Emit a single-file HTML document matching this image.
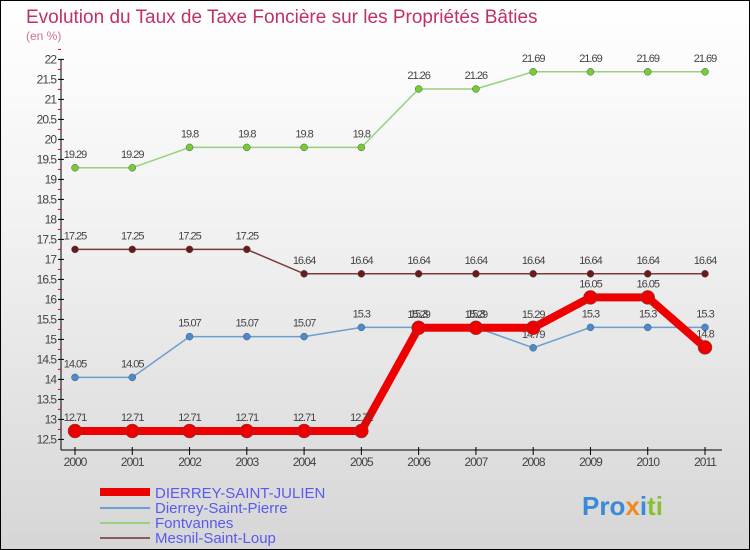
<!DOCTYPE html>
<html><head><meta charset="utf-8"><style>
body{margin:0}
#c{width:750px;height:550px;position:relative;box-sizing:border-box;border:1px solid #000;background:linear-gradient(#fff,#f2f2f2 40%,#d6d6d6);overflow:hidden;font-family:"Liberation Sans",sans-serif}
</style></head><body>
<div id="c">
<svg id="s" width="750" height="550" style="position:absolute;left:-1px;top:-1px">
<text x="26" y="23" font-size="19" fill="#c0306a">Evolution du Taux de Taxe Foncière sur les Propriétés Bâties</text>
<text x="26" y="40" font-size="12" fill="#d0709a">(en %)</text>
<g id="axes"></g><g id="series"></g>
<g>
<line x1="100" y1="492" x2="150" y2="492" stroke="#e00" stroke-width="8"/>
<text x="155" y="498" font-size="15" fill="#5a5aee">DIERREY-SAINT-JULIEN</text>
<line x1="100" y1="508" x2="150" y2="508" stroke="#6a9fd0" stroke-width="2"/>
<text x="155" y="513" font-size="15" fill="#5a5aee">Dierrey-Saint-Pierre</text>
<line x1="100" y1="523" x2="150" y2="523" stroke="#99d080" stroke-width="2"/>
<text x="155" y="528" font-size="15" fill="#5a5aee">Fontvannes</text>
<line x1="100" y1="538" x2="150" y2="538" stroke="#8a5a5a" stroke-width="2"/>
<text x="155" y="543" font-size="15" fill="#5a5aee">Mesnil-Saint-Loup</text>
</g>
<text x="582" y="515" font-size="26" font-weight="bold"><tspan fill="#3a8ad8">Pro</tspan><tspan fill="#f08a20">x</tspan><tspan fill="#3a8ad8">i</tspan><tspan fill="#88c030">ti</tspan></text>
</svg>
</div>
<script>
const years=[2000,2001,2002,2003,2004,2005,2006,2007,2008,2009,2010,2011];
const dsj=[12.71,12.71,12.71,12.71,12.71,12.71,15.29,15.29,15.29,16.05,16.05,14.8];
const dsp=[14.05,14.05,15.07,15.07,15.07,15.3,15.3,15.3,14.79,15.3,15.3,15.3];
const fon=[19.29,19.29,19.8,19.8,19.8,19.8,21.26,21.26,21.69,21.69,21.69,21.69];
const msl=[17.25,17.25,17.25,17.25,16.64,16.64,16.64,16.64,16.64,16.64,16.64,16.64];
const yTicks=[12.5,13,13.5,14,14.5,15,15.5,16,16.5,17,17.5,18,18.5,19,19.5,20,20.5,21,21.5,22];
const NS="http://www.w3.org/2000/svg";
const X=i=>75+i*(630/11), Y=v=>431-(v-12.71)*40;
function mk(t,a,p){const e=document.createElementNS(NS,t);for(const k in a)e.setAttribute(k,a[k]);p.appendChild(e);return e;}
const ax=document.getElementById('axes'),sg=document.getElementById('series');
const ya=mk('line',{x1:61,y1:Y(22),x2:61,y2:450,stroke:'#000'},ax);


const xa=mk('line',{x1:61,y1:450,x2:722,y2:450,stroke:'#000'},ax);


yTicks.forEach(v=>{
 mk('line',{x1:58,y1:Y(v),x2:64,y2:Y(v),stroke:'#000'},ax);
 mk('line',{x1:58,y1:Y(v+0.25),x2:61,y2:Y(v+0.25),stroke:'#e00'},ax);
 const t=mk('text',{x:56,y:Y(v)+4,'font-size':12,'text-anchor':'end',fill:'#444','letter-spacing':'-1'},ax);
 t.textContent=v;
 
 
});
years.forEach((y,i)=>{
 mk('line',{x1:X(i),y1:447,x2:X(i),y2:455,stroke:'#000'},ax);
 const t=mk('text',{x:X(i),y:466,'font-size':12,'text-anchor':'middle',fill:'#444','letter-spacing':'-1'},ax);
 t.textContent=y;
 
 
});
function draw(arr,col,w,r,dot,name){
 const g=mk('g',{},sg);
 
 
 mk('polyline',{points:arr.map((v,i)=>X(i)+','+Y(v)).join(' '),fill:'none',stroke:col,'stroke-width':w},g);
 arr.forEach((v,i)=>{
  const c=mk('circle',{cx:X(i),cy:Y(v),r:r,fill:dot,stroke:'#555','stroke-width':0.5},g);
  
  
  const t=mk('text',{x:X(i),y:Y(v)-10,'font-size':11,'text-anchor':'middle',fill:'#444','letter-spacing':'-1'},g);
  t.textContent=v;
  
  
 });
}
draw(msl,'#7a3a3a',1.5,3.5,'#6a1a1a','mesnil-saint-loup');
draw(fon,'#99d080',1.5,3.5,'#77cc33','fontvannes');
draw(dsp,'#6a9fd0',1.5,3.5,'#4a8ad0','dierrey-saint-pierre');
draw(dsj,'#e00',8,7,'#e00','dierrey-saint-julien');
</script>
</body></html>
